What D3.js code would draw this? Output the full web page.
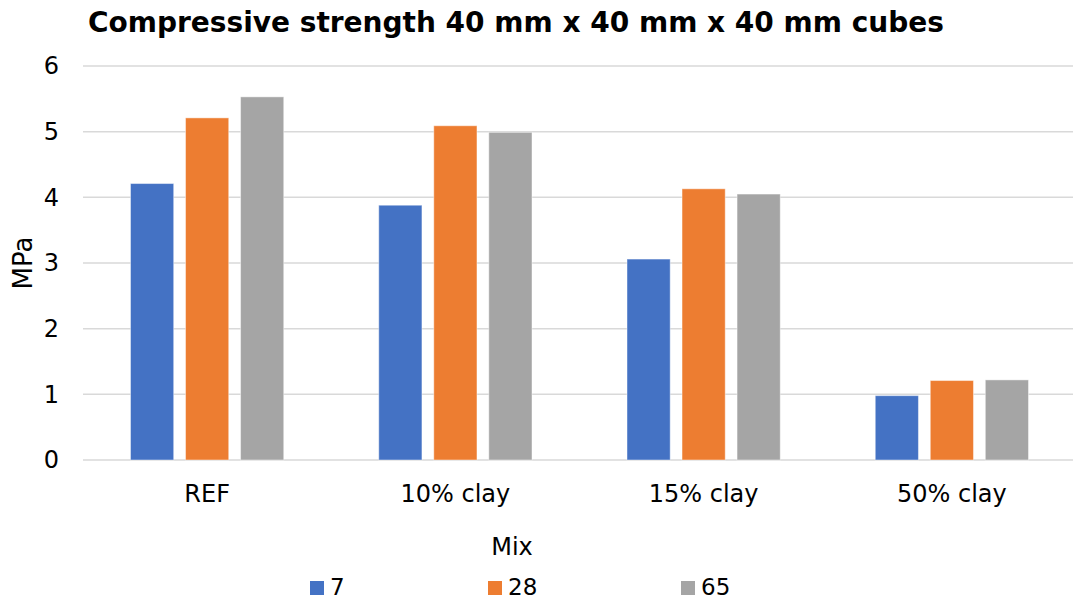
<!DOCTYPE html>
<html>
<head>
<meta charset="utf-8">
<script src="https://cdn.jsdelivr.net/npm/d3@7"></script>
<style>
  html, body { margin: 0; padding: 0; background: #ffffff; }
  svg { display: block; font-family: "DejaVu Sans", Verdana, sans-serif; }
</style>
</head>
<body>
<svg id="chart" width="1073" height="600"></svg>
<script>
// Mixes on the x axis
const mixes = ["REF", "10% clay", "15% clay", "50% clay"];
// Curing ages (days), one series each
const ages = ["7", "28", "65"];
// Compressive strength (MPa) per age, in mix order
const strength7 = [4.21, 3.88, 3.06, 0.98];
const strength28 = [5.21, 5.09, 4.13, 1.21];
const strength65 = [5.53, 4.99, 4.05, 1.22];
const yTicks = [0, 1, 2, 3, 4, 5, 6];
const colors = ["#4472C4", "#ED7D31", "#A5A5A5"];

const seriesValues = [strength7, strength28, strength65];
const rows = mixes.map((m, i) => ({
  mix: m,
  values: ages.map((a, j) => ({ age: a, value: seriesValues[j][i], color: colors[j] }))
}));

const svg = d3.select("#chart");
const plot = { left: 83, right: 1076, top: 66, bottom: 460 };
const fontFamily = "DejaVu Sans, Verdana, sans-serif";

const x0 = d3.scaleBand().domain(mixes).range([plot.left, plot.right]).paddingInner(0).paddingOuter(0);
const x1 = d3.scaleBand().domain(ages).range([47.5, x0.bandwidth() - 47.5]).paddingInner(0.215).paddingOuter(0);
const y = d3.scaleLinear().domain([0, 6]).range([plot.bottom, plot.top]);

// Horizontal gridlines
svg.append("g")
  .selectAll("line")
  .data(yTicks)
  .join("line")
  .attr("x1", plot.left)
  .attr("x2", 1073)
  .attr("y1", d => y(d))
  .attr("y2", d => y(d))
  .attr("stroke", "#d9d9d9")
  .attr("stroke-width", 1.5);

// Y axis labels
const yAxis = d3.axisLeft(y).tickValues(yTicks).tickSize(0).tickPadding(0).tickFormat(d3.format("d"));
const gy = svg.append("g").attr("transform", "translate(59,0)").call(yAxis);
gy.select(".domain").remove();
gy.selectAll("text")
  .attr("font-size", 24)
  .attr("fill", "#000")
  .attr("font-family", fontFamily);

// Bars
const groups = svg.append("g")
  .selectAll("g")
  .data(rows)
  .join("g")
  .attr("transform", d => `translate(${x0(d.mix)},0)`);

groups.selectAll("rect")
  .data(d => d.values)
  .join("rect")
  .attr("x", d => x1(d.age))
  .attr("width", x1.bandwidth())
  .attr("y", d => y(d.value))
  .attr("height", d => y(0) - y(d.value))
  .attr("fill", d => d.color)
  .attr("stroke", "#ffffff")
  .attr("stroke-opacity", 0.45)
  .attr("stroke-width", 1);

// X axis category labels
const xAxis = d3.axisBottom(x0).tickSize(0).tickPadding(0);
const gx = svg.append("g").attr("transform", `translate(0,${plot.bottom + 25})`).call(xAxis);
gx.select(".domain").remove();
gx.selectAll("text")
  .attr("font-size", 24)
  .attr("fill", "#000")
  .attr("font-family", fontFamily);

// Title
svg.append("text")
  .attr("x", 88)
  .attr("y", 32)
  .attr("font-size", 28)
  .attr("font-weight", "bold")
  .attr("fill", "#000")
  .text("Compressive strength 40 mm x 40 mm x 40 mm cubes");

// Axis titles
svg.append("text")
  .attr("transform", "translate(32,263) rotate(-90)")
  .attr("text-anchor", "middle")
  .attr("font-size", 26)
  .attr("fill", "#000")
  .text("MPa");

svg.append("text")
  .attr("x", 512)
  .attr("y", 555)
  .attr("text-anchor", "middle")
  .attr("font-size", 24)
  .attr("fill", "#000")
  .text("Mix");

// Legend
const legendX = [310, 488, 681];
const legend = svg.append("g")
  .selectAll("g")
  .data(ages)
  .join("g")
  .attr("transform", (d, i) => `translate(${legendX[i]},581)`);
legend.append("rect")
  .attr("width", 14)
  .attr("height", 14)
  .attr("fill", (d, i) => colors[i]);
legend.append("text")
  .attr("x", 20)
  .attr("y", 14)
  .attr("font-size", 23)
  .attr("fill", "#000")
  .text(d => d);
</script>
</body>
</html>
